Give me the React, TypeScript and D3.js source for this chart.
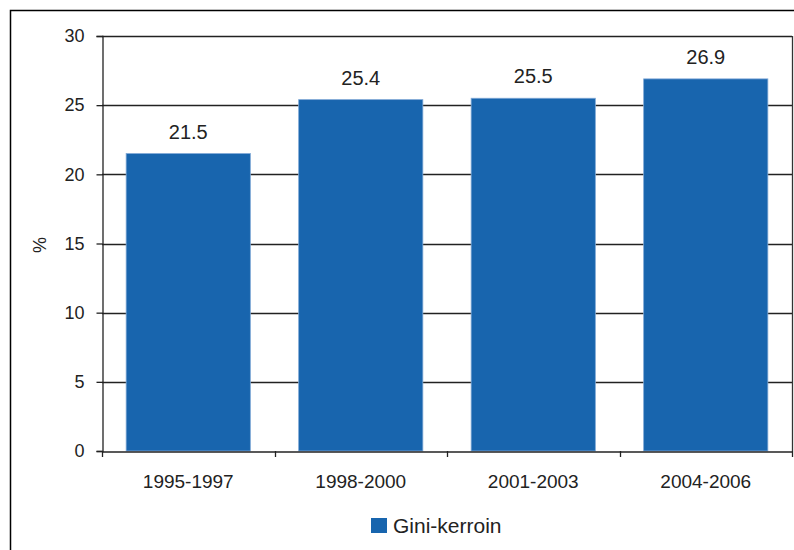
import { useEffect, useRef } from 'react';
import * as d3 from 'd3';

const categories = ['1995-1997', '1998-2000', '2001-2003', '2004-2006'];
const values = [21.5, 25.4, 25.5, 26.9];
const yTicks = [0, 5, 10, 15, 20, 25, 30];
const seriesName = 'Gini-kerroin';

const width = 794;
const height = 550;
const margin = { top: 36, right: 2, bottom: 99, left: 102 };
const barColor = '#1865ae';
const font = 'Arial, "Liberation Sans", sans-serif';

const App = () => {
  const ref = useRef<SVGSVGElement>(null);

  useEffect(() => {
    const svg = d3.select(ref.current);
    svg.selectAll('*').remove();

    const x = d3.scaleBand()
      .domain(categories)
      .range([margin.left, width - margin.right])
      .paddingInner(0.28)
      .paddingOuter(0.14);

    const y = d3.scaleLinear()
      .domain([0, 30])
      .range([height - margin.bottom, margin.top]);

    // outer frame (runs past the right and bottom of the picture)
    svg.append('rect')
      .attr('x', 10.5).attr('y', 10.5)
      .attr('width', width + 20).attr('height', height + 20)
      .attr('fill', 'none').attr('stroke', '#000').attr('stroke-width', 1.5);

    // gridlines
    svg.append('g')
      .selectAll('line')
      .data(yTicks.filter(d => d > 0))
      .join('line')
      .attr('x1', margin.left).attr('x2', width - margin.right)
      .attr('y1', d => Math.round(y(d)) + 0.5).attr('y2', d => Math.round(y(d)) + 0.5)
      .attr('stroke', '#222').attr('stroke-width', 1.3);

    // right border of plot
    svg.append('line')
      .attr('x1', width - margin.right + 0.5).attr('x2', width - margin.right + 0.5)
      .attr('y1', margin.top).attr('y2', height - margin.bottom)
      .attr('stroke', '#333').attr('stroke-width', 1.3);

    // bars
    svg.append('g')
      .selectAll('rect')
      .data(values)
      .join('rect')
      .attr('x', (d, i) => x(categories[i])!)
      .attr('y', d => y(d))
      .attr('width', x.bandwidth())
      .attr('height', d => y(0) - y(d))
      .attr('fill', barColor)
      .attr('stroke', '#7fa8d6')
      .attr('stroke-width', 0.8);

    // value labels
    svg.append('g')
      .selectAll('text')
      .data(values)
      .join('text')
      .attr('x', (d, i) => x(categories[i])! + x.bandwidth() / 2)
      .attr('y', d => y(d) - 15)
      .attr('text-anchor', 'middle')
      .attr('font-family', font)
      .attr('font-size', 20)
      .attr('fill', '#222')
      .text(d => d.toFixed(1));

    // y axis
    const yAxis = svg.append('g')
      .attr('transform', `translate(${margin.left + 0.5},0)`)
      .call(d3.axisLeft(y).tickValues(yTicks).tickSize(6).tickPadding(12).tickFormat(d3.format('d')));
    yAxis.select('.domain').attr('stroke', '#222').attr('stroke-width', 1.3);
    yAxis.selectAll('.tick line').attr('stroke', '#222').attr('stroke-width', 1.3);
    yAxis.selectAll('.tick text')
      .attr('font-family', font).attr('font-size', 18).attr('fill', '#222');

    // x axis
    const xAxis = svg.append('g')
      .attr('transform', `translate(0,${height - margin.bottom + 0.5})`)
      .call(d3.axisBottom(x).tickSize(0).tickPadding(23).tickSizeOuter(0));
    xAxis.select('.domain').attr('stroke', '#222').attr('stroke-width', 1.3);
    xAxis.selectAll('.tick text')
      .attr('font-family', font).attr('font-size', 19).attr('fill', '#222');

    // category separator ticks
    const step = x.step();
    const edges = d3.range(categories.length + 1).map(i => margin.left + i * step);
    svg.append('g')
      .selectAll('line')
      .data(edges)
      .join('line')
      .attr('x1', d => Math.round(d) + 0.5).attr('x2', d => Math.round(d) + 0.5)
      .attr('y1', y(0)).attr('y2', y(0) + 6)
      .attr('stroke', '#222').attr('stroke-width', 1.3);

    // y axis title
    svg.append('text')
      .attr('transform', `translate(46,245) rotate(-90)`)
      .attr('text-anchor', 'middle')
      .attr('font-family', font)
      .attr('font-size', 18)
      .attr('fill', '#222')
      .text('%');

    // legend
    const legend = svg.append('g').attr('transform', 'translate(371,518)');
    legend.append('rect')
      .attr('width', 16).attr('height', 15)
      .attr('fill', barColor);
    legend.append('text')
      .attr('x', 22).attr('y', 15)
      .attr('font-family', font)
      .attr('font-size', 21)
      .attr('fill', '#222')
      .text(seriesName);
  }, []);

  return (
    <svg ref={ref} width={width} height={height}
      style={{ position: 'absolute', left: 0, top: 0, background: '#fff' }} />
  );
};

export default App;
